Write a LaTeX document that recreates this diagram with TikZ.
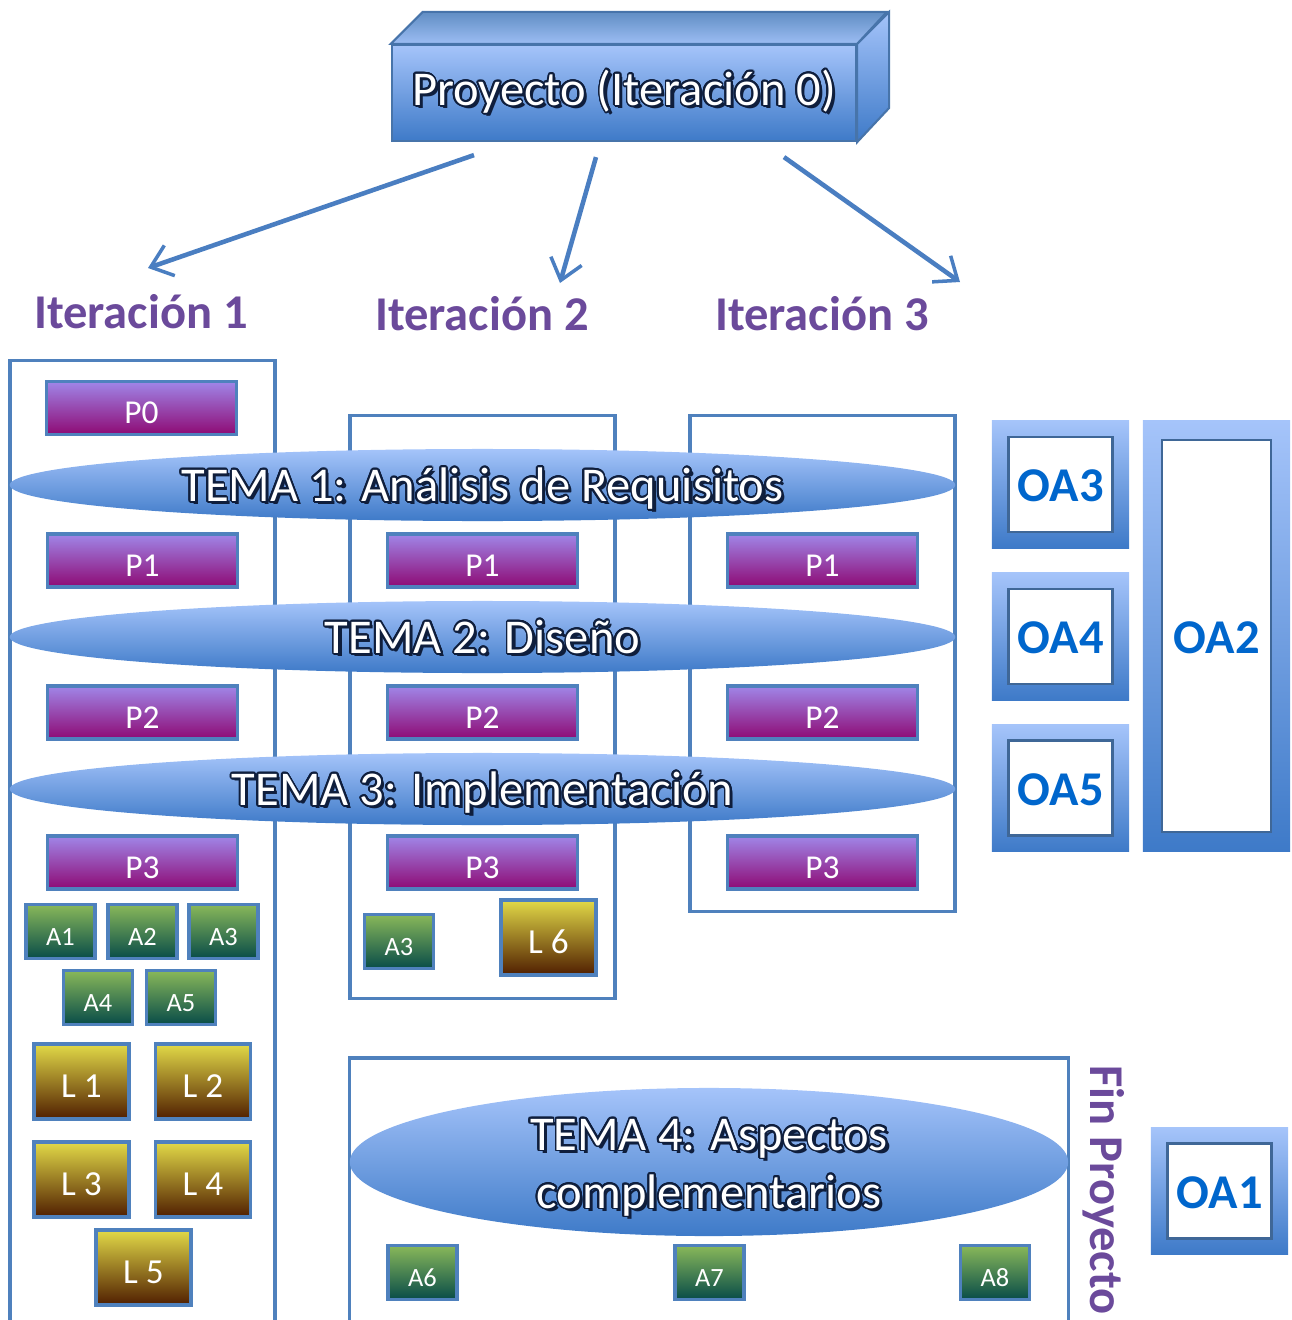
\documentclass[tikz,border=0pt]{standalone}
\usepackage{fontspec}
\setmainfont{Carlito}
\usepackage[copies]{contour}
\usetikzlibrary{shapes.geometric,arrows.meta}

\definecolor{bordeAzul}{RGB}{79,129,189}
\definecolor{flechaAzul}{RGB}{74,126,193}
\definecolor{morado}{RGB}{107,74,155}
\definecolor{pArriba}{RGB}{160,134,232}
\definecolor{pAbajo}{RGB}{142,10,116}
\definecolor{aArriba}{RGB}{137,184,90}
\definecolor{aAbajo}{RGB}{8,76,72}
\definecolor{lArriba}{RGB}{226,218,72}
\definecolor{lAbajo}{RGB}{80,30,0}
\definecolor{temaArriba}{RGB}{165,196,250}
\definecolor{temaAbajo}{RGB}{62,122,200}
\definecolor{temaBorde}{RGB}{15,30,60}
\definecolor{oaTexto}{RGB}{0,102,204}

\contourlength{0.5pt}
\contournumber{24}
% texto blanco con borde oscuro y sombra
\newcommand{\resalte}[1]{%
    \leavevmode\rlap{\hspace{0.9pt}\raisebox{-0.9pt}{\textcolor{temaBorde}{#1}}}%
    \contour{temaBorde}{#1}}
\newcommand{\fgrande}{\fontsize{13.8}{16.5}\selectfont}

\begin{document}
\begin{tikzpicture}[
        x=0.01cm, y=-0.01cm,
        proyecto/.style={
            rectangle,
            draw=bordeAzul!90!black,
            line width=0.6pt,
            top color=temaArriba,
            bottom color=temaAbajo,
            minimum width=4.64cm,
            minimum height=0.96cm,
            inner sep=0pt,
            text=white,
            font=\fgrande
        },
        cara/.style={
            draw=bordeAzul!90!black,
            line width=0.6pt
        },
        flecha/.style={
            -{Straight Barb[length=0.2cm,width=0.32cm,line width=1pt]},
            line width=1.3pt,
            draw=flechaAzul
        },
        iterlabel/.style={
            inner sep=0pt,
            text=morado,
            font=\fgrande\bfseries
        },
        iterbox/.style={
            rectangle,
            draw=bordeAzul,
            line width=0.9pt,
            inner sep=0pt
        },
        cuadro/.style={
            rectangle,
            draw=bordeAzul,
            line width=0.9pt,
            inner sep=0pt,
            text height=1.9ex,
            text depth=0pt,
            text=white
        },
        pbox/.style={
            cuadro,
            top color=pArriba,
            bottom color=pAbajo,
            minimum width=1.9cm,
            minimum height=0.53cm,
            font=\fontsize{9.5}{11}\selectfont
        },
        abox/.style={
            cuadro,
            top color=aArriba,
            bottom color=aAbajo,
            minimum width=0.69cm,
            minimum height=0.54cm,
            text height=1.7ex,
            font=\fontsize{7.5}{9}\selectfont
        },
        lbox/.style={
            cuadro,
            top color=lArriba,
            bottom color=lAbajo,
            minimum width=0.95cm,
            minimum height=0.75cm,
            font=\fontsize{10}{12}\selectfont
        },
        tema/.style={
            ellipse,
            top color=temaArriba,
            bottom color=temaAbajo,
            inner sep=0pt,
            text height=1.95ex,
            text depth=0pt,
            text=white,
            font=\fgrande
        },
        tematexto/.style={
            inner sep=0pt,
            align=center,
            text=white,
            font=\fgrande
        },
        oamarco/.style={
            rectangle,
            top color=temaArriba,
            bottom color=temaAbajo,
            inner sep=0pt
        },
        oa/.style={
            rectangle,
            fill=white,
            draw=bordeAzul!80!black,
            line width=0.6pt,
            inner sep=0pt,
            text height=2.05ex,
            text depth=0pt,
            text=oaTexto,
            font=\fgrande\bfseries
        }
    ]

    \useasboundingbox (0,0) rectangle (1292,1320);

    % proyecto en 3D
    \node[proyecto] (proy) at (624,93) {\resalte{Proyecto (Iteración 0)}};
    \path[cara, top color=bordeAzul!90, bottom color=temaArriba!90!bordeAzul]
        (proy.north west) -- ++(32,-32) -- ++(464,0) -- (proy.north east) -- cycle;
    \path[cara, top color=temaArriba, bottom color=temaAbajo]
        (proy.north east) -- ++(32,-32) -- ++(0,96) -- (proy.south east) -- cycle;

    \node[iterlabel] (it1) at (141,312) {Iteración 1};
    \node[iterlabel] (it2) at (482,314) {Iteración 2};
    \node[iterlabel] (it3) at (822,314) {Iteración 3};

    \draw[flecha] ([shift={(-150,13)}]proy.south) -- ([shift={(7,-44)}]it1.center);
    \draw[flecha] ([shift={(-28,15)}]proy.south) -- ([shift={(78,-31)}]it2.center);
    \draw[flecha] ([shift={(160,15)}]proy.south) -- ([shift={(138,-32)}]it3.center);

    % columnas de cada iteracion
    \node[iterbox, minimum width=2.65cm, minimum height=9.79cm] (col1) at (142.5,850.5) {};
    \node[iterbox, minimum width=2.65cm, minimum height=5.82cm] (col2) at (482.5,707) {};
    \node[iterbox, minimum width=2.65cm, minimum height=4.95cm] (col3) at (822.5,663.5) {};
    \node[iterbox, minimum width=7.18cm, minimum height=2.82cm] (fin) at (709,1199) {};

    % practicas
    \node[pbox] (p0) at (141.5,408) {P0};
    \foreach \c/\x in {a/142.5, b/482.5, c/822.5} {
        \node[pbox] (p1\c) at (\x,560.5) {P1};
        \node[pbox] (p2\c) at (\x,712.5) {P2};
        \node[pbox] (p3\c) at (\x,862.5) {P3};
    }

    % temas
    \node[tema, minimum width=9.45cm, minimum height=0.72cm] (t1) at (482.5,485) {\resalte{TEMA 1: Análisis de Requisitos}};
    \node[tema, minimum width=9.45cm, minimum height=0.72cm] (t2) at (482.5,637) {\resalte{TEMA 2: Diseño}};
    \node[tema, minimum width=9.45cm, minimum height=0.72cm] (t3) at (482.5,789) {\resalte{TEMA 3: Implementación}};
    \node[tema, minimum width=7.18cm, minimum height=1.48cm] (t4) at (709,1162) {};
    \node[tematexto] (t4txt) at ([yshift=-0.07cm]t4.center)
        {\resalte{TEMA 4: Aspectos}\\\resalte{complementarios}};

    % actividades
    \node[abox] (a1) at (60.5,931.5) {A1};
    \node[abox] (a2) at (142.5,931.5) {A2};
    \node[abox] (a3) at (223.5,931.5) {A3};
    \node[abox] (a4) at (98,997.5) {A4};
    \node[abox] (a5) at (181,997.5) {A5};
    \node[abox] (a3b) at (399,941.5) {A3};
    \node[abox] (a6) at (422.5,1272.5) {A6};
    \node[abox] (a7) at (709.5,1272.5) {A7};
    \node[abox] (a8) at (995,1272.5) {A8};

    % lecturas
    \node[lbox] (l1) at (81.5,1081.5) {L 1};
    \node[lbox] (l2) at (203,1081.5) {L 2};
    \node[lbox] (l3) at (81.5,1179.5) {L 3};
    \node[lbox] (l4) at (203,1179.5) {L 4};
    \node[lbox] (l5) at (143.5,1267.5) {L 5};
    \node[lbox] (l6) at (548.5,937.5) {L 6};

    % objetivos de aprendizaje
    \node[oamarco, minimum width=1.37cm, minimum height=1.27cm] (oa3f) at (1060.5,484.5) {};
    \node[oa, minimum width=1.04cm, minimum height=0.95cm] (oa3) at (oa3f) {OA3};
    \node[oamarco, minimum width=1.37cm, minimum height=1.27cm] (oa4f) at (1060.5,636.5) {};
    \node[oa, minimum width=1.04cm, minimum height=0.95cm] (oa4) at (oa4f) {OA4};
    \node[oamarco, minimum width=1.37cm, minimum height=1.27cm] (oa5f) at (1060.5,788) {};
    \node[oa, minimum width=1.04cm, minimum height=0.95cm] (oa5) at (oa5f) {OA5};
    \node[oamarco, minimum width=1.47cm, minimum height=4.30cm] (oa2f) at (1216.5,636) {};
    \node[oa, minimum width=1.09cm, minimum height=3.92cm] (oa2) at (oa2f) {OA2};
    \node[oamarco, minimum width=1.37cm, minimum height=1.26cm] (oa1f) at (1219.5,1191) {};
    \node[oa, minimum width=1.04cm, minimum height=0.95cm] (oa1) at (oa1f) {OA1};

    \node[iterlabel, rotate=-90] (finp) at (1104,1190) {Fin Proyecto};

\end{tikzpicture}
\end{document}
